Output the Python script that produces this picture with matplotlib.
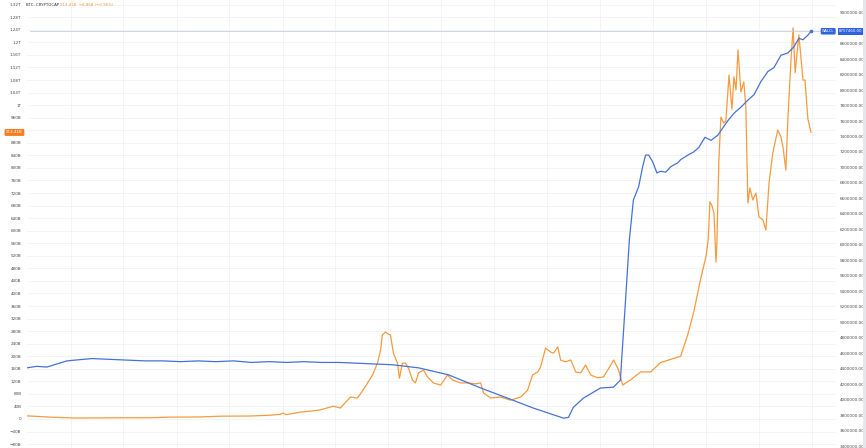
import pandas as pd
import numpy as np
import matplotlib.pyplot as plt
import matplotlib.dates as mdates
import matplotlib.transforms as mtransforms
from matplotlib.ticker import FixedLocator, FuncFormatter

# BTC market cap (CRYPTOCAP:BTC), billions USD
btc_dates = [
    "2014-08-03", "2014-10-21", "2015-01-15", "2015-04-11", "2015-07-24", "2015-10-01",
    "2015-12-09", "2016-03-22", "2016-05-30", "2016-09-11", "2016-11-19", "2016-12-24",
    "2017-01-03", "2017-01-12", "2017-01-28", "2017-03-03", "2017-04-07", "2017-05-11",
    "2017-06-25", "2017-07-19", "2017-08-23", "2017-09-16", "2017-10-03", "2017-10-21",
    "2017-11-07", "2017-11-24", "2017-12-05", "2017-12-11", "2017-12-22", "2018-01-01",
    "2018-01-08", "2018-01-18", "2018-02-01", "2018-02-08", "2018-02-18", "2018-03-01",
    "2018-03-11", "2018-03-25", "2018-04-04", "2018-04-15", "2018-05-02", "2018-05-16",
    "2018-06-05", "2018-06-30", "2018-07-24", "2018-08-10", "2018-09-07", "2018-10-01",
    "2018-10-29", "2018-11-15", "2018-11-25", "2018-12-19", "2019-01-23", "2019-02-26",
    "2019-04-02", "2019-04-26", "2019-05-13", "2019-05-31", "2019-06-10", "2019-06-27",
    "2019-07-15", "2019-07-25", "2019-08-08", "2019-08-18", "2019-09-04", "2019-09-22",
    "2019-10-09", "2019-10-26", "2019-11-12", "2019-11-30", "2019-12-24", "2020-01-13",
    "2020-02-07", "2020-02-17", "2020-03-05", "2020-03-19", "2020-04-16", "2020-05-20",
    "2020-06-24", "2020-07-28", "2020-09-01", "2020-10-05", "2020-10-30", "2020-11-19",
    "2020-12-14", "2021-01-01", "2021-01-08", "2021-01-14", "2021-01-21", "2021-01-28",
    "2021-02-04", "2021-02-07", "2021-02-14", "2021-02-21", "2021-03-03", "2021-03-10",
    "2021-03-21", "2021-03-31", "2021-04-07", "2021-04-14", "2021-04-21", "2021-05-01",
    "2021-05-11", "2021-05-18", "2021-05-25", "2021-06-01", "2021-06-11", "2021-06-22",
    "2021-07-02", "2021-07-16", "2021-07-26", "2021-08-06", "2021-08-19", "2021-09-05",
    "2021-09-16", "2021-09-23", "2021-10-03", "2021-10-10", "2021-10-21", "2021-10-28",
    "2021-11-04", "2021-11-17", "2021-12-01", "2021-12-08", "2021-12-18", "2021-12-29",
]
btc_cap_b = [
    10, 6, 3, 3.5, 4, 4,
    6, 6.5, 9, 9.5, 12, 15,
    19, 14, 16, 22, 25, 29,
    41, 35, 70, 67, 89, 115,
    140, 178, 220, 268, 277, 270,
    268, 210, 178, 130, 178, 178,
    162, 124, 115, 147, 156, 134,
    115, 108, 140, 124, 115, 115,
    112, 115, 83, 67, 70, 60,
    70, 92, 140, 150, 166, 226,
    213, 210, 230, 188, 182, 188,
    150, 147, 172, 140, 131, 134,
    172, 188, 156, 108, 125, 150,
    150, 180, 190, 200, 270, 340,
    450, 520, 570, 692, 680, 657,
    500, 560, 825, 962, 943, 950,
    1096, 987, 1090, 1048, 1176, 1042,
    1074, 994, 688, 736, 698, 720,
    644, 634, 602, 752, 848, 921,
    899, 867, 793, 956, 1147, 1246,
    1103, 1224, 1080, 1080, 956, 913,
]

# Fed balance sheet (WALCL), millions USD
walcl_dates = [
    "2014-08-03", "2014-09-06", "2014-10-10", "2014-11-14", "2014-12-19", "2015-01-15",
    "2015-03-15", "2015-05-15", "2015-07-15", "2015-09-15", "2015-11-15", "2016-01-15",
    "2016-03-15", "2016-05-15", "2016-07-15", "2016-09-15", "2016-11-15", "2017-01-15",
    "2017-03-15", "2017-05-15", "2017-07-15", "2017-09-15", "2017-11-15", "2018-01-15",
    "2018-04-15", "2018-07-27", "2018-11-15", "2019-02-15", "2019-05-16", "2019-08-28",
    "2019-09-14", "2019-10-01", "2019-11-05", "2020-01-03", "2020-02-16", "2020-03-11",
    "2020-03-29", "2020-04-11", "2020-04-25", "2020-05-13", "2020-05-27", "2020-06-06",
    "2020-06-17", "2020-07-01", "2020-07-15", "2020-07-28", "2020-08-15", "2020-09-01",
    "2020-09-25", "2020-10-05", "2020-10-30", "2020-11-19", "2020-12-07", "2020-12-28",
    "2021-01-18", "2021-02-11", "2021-03-01", "2021-03-18", "2021-04-07", "2021-05-01",
    "2021-05-25", "2021-06-15", "2021-07-09", "2021-08-02", "2021-08-23", "2021-09-16",
    "2021-10-10", "2021-10-31", "2021-11-17", "2021-12-01", "2021-12-18", "2021-12-29",
]
walcl_usd_m = [
    4410000, 4430000, 4420000, 4460000, 4500000, 4510000,
    4530000, 4520000, 4510000, 4500000, 4500000, 4490000,
    4500000, 4490000, 4500000, 4480000, 4490000, 4480000,
    4490000, 4480000, 4480000, 4470000, 4460000, 4450000,
    4410000, 4320000, 4150000, 4020000, 3890000, 3760000,
    3770000, 3900000, 4020000, 4150000, 4160000, 4250000,
    5290000, 6060000, 6580000, 6750000, 7010000, 7160000,
    7160000, 7070000, 6930000, 6950000, 6940000, 7010000,
    7060000, 7100000, 7160000, 7200000, 7260000, 7390000,
    7350000, 7420000, 7520000, 7610000, 7700000, 7780000,
    7870000, 7940000, 8110000, 8240000, 8290000, 8450000,
    8480000, 8560000, 8670000, 8650000, 8710000, 8760000,
]

left_ticks = list(range(-80, 1321, 40))
right_ticks = list(range(3400000, 9000001, 200000))
# tick labels that sit under the price labels in the screenshot
hidden_left = [920]
hidden_right = [8800000]

ORANGE = "#f79a3e"
BLUE = "#4572d6"
TXT = "#4a4a4a"


def left_fmt(v, pos):
    if round(v) in hidden_left:
        return ""
    if v >= 1000:
        return f"{v / 1000:g}T"
    if v == 0:
        return "0"
    return f"{v:g}B".replace("-", "\u2212")


def right_fmt(v, pos):
    if round(v) in hidden_right:
        return ""
    return f"{v:.2f}"


def main():
    bd = pd.to_datetime(btc_dates)
    wd = pd.to_datetime(walcl_dates)

    fig = plt.figure(figsize=(8.66, 4.48), dpi=100)
    fig.patch.set_facecolor("white")
    ax = fig.add_axes([27 / 866, 0, 809 / 866, 1])
    ax2 = ax.twinx()

    # axis ranges picked so both scales line up with the screenshot
    ax.set_xlim(pd.Timestamp("2014-08-03"), pd.Timestamp("2022-03-25"))
    ax.set_ylim(-92.4, 1335)
    ax2.set_ylim(3374180, 9164135)

    for a in (ax, ax2):
        for s in a.spines.values():
            s.set_visible(False)

    # grid
    ax.yaxis.set_major_locator(FixedLocator(left_ticks))
    ax.yaxis.set_major_formatter(FuncFormatter(left_fmt))
    ax.xaxis.set_major_locator(mdates.MonthLocator(bymonth=[1, 7]))
    ax.grid(True, color="#f1f2f6", linewidth=0.6)
    ax.tick_params(axis="x", length=0, labelbottom=False)
    ax.tick_params(axis="y", length=0, labelsize=3, labelcolor=TXT, pad=4)

    ax2.yaxis.set_major_locator(FixedLocator(right_ticks))
    ax2.yaxis.set_major_formatter(FuncFormatter(right_fmt))
    ax2.tick_params(axis="y", length=0, labelsize=3, labelcolor=TXT, pad=2.5)

    ax.plot(bd, btc_cap_b, color=ORANGE, linewidth=0.9, zorder=3)
    ax2.plot(wd, walcl_usd_m, color=BLUE, linewidth=0.9, zorder=3)
    ax2.plot(wd[-1], walcl_usd_m[-1], "o", color=BLUE, markersize=1.6, zorder=4)

    # last value line of the blue series
    ax2.axhline(walcl_usd_m[-1], xmin=0.004, color="#c9cfdc", linewidth=0.6, zorder=1)

    # price labels
    tl = mtransforms.blended_transform_factory(fig.transFigure, ax.transData)
    ax.text(6 / 866, btc_cap_b[-1], "913.41B", transform=tl, fontsize=3, color="white",
            ha="left", va="center", zorder=10, clip_on=False,
            bbox=dict(boxstyle="round,pad=0.35,rounding_size=0.3", fc="#f57c1f", ec="none"))
    tr = mtransforms.blended_transform_factory(fig.transFigure, ax2.transData)
    ax2.text(822 / 866, walcl_usd_m[-1], "WALCL", transform=tr, fontsize=2.6, color="white",
             ha="left", va="center", zorder=10, clip_on=False,
             bbox=dict(boxstyle="round,pad=0.35,rounding_size=0.3", fc="#2f62e0", ec="none"))
    ax2.text(839 / 866, walcl_usd_m[-1], "8757460.00", transform=tr, fontsize=2.8, color="white",
             ha="left", va="center", zorder=10, clip_on=False,
             bbox=dict(boxstyle="square,pad=0.35", fc="#2f62e0", ec="none"))

    # header
    fig.text(26 / 866, 1 - 5 / 448, "BTC, CRYPTOCAP", fontsize=2.8, color="#333333",
             ha="left", va="center")
    fig.text(60 / 866, 1 - 5 / 448, "913.41B  \u22128.86B (\u22120.96%)", fontsize=2.8,
             color=ORANGE, ha="left", va="center")

    # scrollbar strip on the right edge
    fig.patches.append(plt.Rectangle((863 / 866, 0), 3 / 866, 1, transform=fig.transFigure,
                                      facecolor="#e6e7ea", edgecolor="none"))

    fig.savefig("out.png", dpi=100, facecolor="white")


if __name__ == "__main__":
    main()
